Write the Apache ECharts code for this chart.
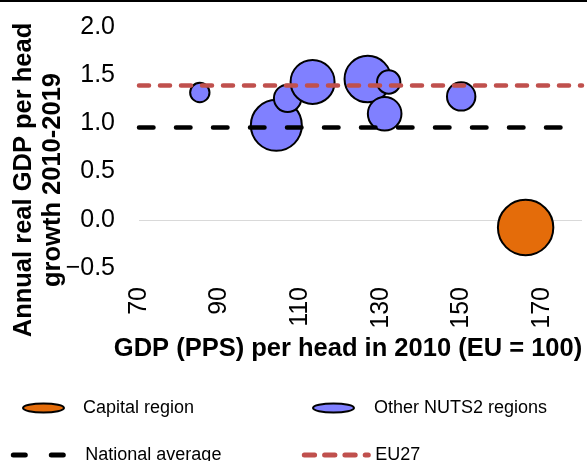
<!DOCTYPE html>
<html>
<head>
<meta charset="utf-8">
<script src="https://cdn.jsdelivr.net/npm/echarts@6/dist/echarts.min.js"></script>
<style>
html,body{margin:0;padding:0;background:#fff;}
#chart{width:587px;height:461px;}
</style>
</head>
<body>
<div id="chart"></div>
<script>
// ---- data ----
const xTicks = [70, 90, 110, 130, 150, 170];
const yTicks = [-0.5, 0.0, 0.5, 1.0, 1.5, 2.0];
const xMin = 70, xMax = 180, xInterval = 20;
const yMin = -0.5, yMax = 2.0, yInterval = 0.5;

const capitalName = 'Capital region';
const capitalX = [166.0];
const capitalY = [-0.08];
const capitalSize = [824];

const otherName = 'Other NUTS2 regions';
const otherX = [85.1, 104.1, 106.9, 113.1, 126.8, 131.0, 132.0, 150.0];
const otherY = [1.32, 0.98, 1.26, 1.43, 1.46, 1.10, 1.43, 1.28];
const otherSize = [114, 702, 216, 529, 586, 317, 161, 231];

const nationalName = 'National average';
const nationalAverage = 0.96;
const eu27Name = 'EU27';
const eu27 = 1.40;
const zeroLine = 0;

const xTitle = 'GDP (PPS) per head in 2010 (EU = 100)';
const yTitle = 'Annual real GDP per head\ngrowth 2010-2019';

// ---- chart ----
const FONT = "'Liberation Sans', Arial, sans-serif";
const zip = (xs, ys, ss) => xs.map((x, i) => [x, ys[i], ss[i]]);
const BW = 2;
const sizeFn = d => 2 * Math.sqrt(d[2]) - BW;
const ellipse = 'path://M0,50 A50,50 0 1,1 100,50 A50,50 0 1,1 0,50 Z';

const chart = echarts.init(document.getElementById('chart'), null, {renderer: 'canvas'});
function mkLegend(name, left, top, itemWidth, padLeft, extra) {
  return Object.assign({
    data: [name], left: left, top: top, itemWidth: itemWidth, itemHeight: 9,
    orient: 'horizontal', padding: 0, selectedMode: false, symbolKeepAspect: false,
    formatter: '{t|{name}}',
    textStyle: {fontFamily: FONT, fontSize: 18, color: '#000',
      rich: {t: {fontFamily: FONT, fontSize: 18, color: '#000', padding: [0, 0, 0, padLeft]}}}
  }, extra || {});
}
chart.setOption({
  animation: false,
  backgroundColor: '#fff',
  grid: {left: 139, right: 5, top: 27, bottom: 193, containLabel: false},
  xAxis: {
    type: 'value', min: xMin, max: xMax, interval: xInterval,
    axisLine: {show: false}, axisTick: {show: false}, splitLine: {show: false},
    axisLabel: {
      rotate: 90, margin: 19, fontFamily: FONT, fontSize: 25, color: '#000',
      formatter: v => (xTicks.indexOf(v) >= 0 ? String(v) : '')
    }
  },
  yAxis: {
    type: 'value', min: yMin, max: yMax, interval: yInterval,
    axisLine: {show: false}, axisTick: {show: false}, splitLine: {show: false},
    axisLabel: {
      margin: 24, fontFamily: FONT, fontSize: 25, color: '#000',
      formatter: v => (yTicks.some(t => Math.abs(t - v) < 1e-9) ? v.toFixed(1).replace('-', '\u2212') : '')
    }
  },
  legend: [
    mkLegend(capitalName, 22, 399, 41, 14, {icon: ellipse}),
    mkLegend(otherName, 312, 399, 41, 15, {icon: ellipse}),
    mkLegend(nationalName, 10.8, 446, 50, 17, {
      lineStyle: {type: [12, 26], width: 5, cap: 'round', color: '#000'},
      itemStyle: {opacity: 0, color: 'rgba(0,0,0,0)', borderWidth: 0}}),
    mkLegend(eu27Name, 301.8, 446, 64, 2, {
      lineStyle: {type: [10.3, 10], width: 5, cap: 'round', color: '#C0504D'},
      itemStyle: {opacity: 0, color: 'rgba(0,0,0,0)', borderWidth: 0}})
  ],
  graphic: [
    {type: 'line', shape: {x1: 0, y1: 1, x2: 587, y2: 1}, style: {stroke: '#000', lineWidth: 2}, silent: true},
    {type: 'text', x: 38.5, y: 180, rotation: Math.PI / 2, silent: true,
      style: {text: yTitle, font: 'bold 25.5px ' + FONT, fill: '#000', align: 'center', verticalAlign: 'middle', lineHeight: 29}},
    {type: 'text', x: 348, y: 349, silent: true,
      style: {text: xTitle, font: 'bold 25.5px ' + FONT, fill: '#000', align: 'center', verticalAlign: 'middle'}}
  ],
  series: [
    {
      name: 'zero', type: 'line', data: [], silent: true,
      markLine: {silent: true, z: 1, symbol: ['none', 'none'], label: {show: false},
        lineStyle: {color: '#d9d9d9', width: 1, type: 'solid'}, data: [{yAxis: zeroLine}]}
    },
    {
      name: capitalName, type: 'scatter', z: 2, data: zip(capitalX, capitalY, capitalSize),
      symbolSize: sizeFn, color: '#E46C0A',
      itemStyle: {color: '#E46C0A', borderColor: '#000', borderWidth: BW, opacity: 1}
    },
    {
      name: otherName, type: 'scatter', z: 2, data: zip(otherX, otherY, otherSize),
      symbolSize: sizeFn, color: '#8080FF',
      itemStyle: {color: '#8080FF', borderColor: '#000', borderWidth: BW, opacity: 1}
    },
    {
      name: nationalName, type: 'line', data: [], symbol: 'none', color: '#000',
      lineStyle: {color: '#000', width: 4.5, type: [14.5, 22.5], cap: 'round'},
      markLine: {silent: true, z: 6, symbol: ['none', 'none'], label: {show: false},
        lineStyle: {color: '#000', width: 4.5, type: [14.5, 22.5], cap: 'round'},
        data: [{yAxis: nationalAverage}]}
    },
    {
      name: eu27Name, type: 'line', data: [], symbol: 'none', color: '#C0504D',
      lineStyle: {color: '#C0504D', width: 4.5, type: [10, 11], cap: 'round'},
      markLine: {silent: true, z: 6, symbol: ['none', 'none'], label: {show: false},
        lineStyle: {color: '#C0504D', width: 4.5, type: [10, 11], cap: 'round'},
        data: [{yAxis: eu27}]}
    }
  ]
});
</script>
</body>
</html>
